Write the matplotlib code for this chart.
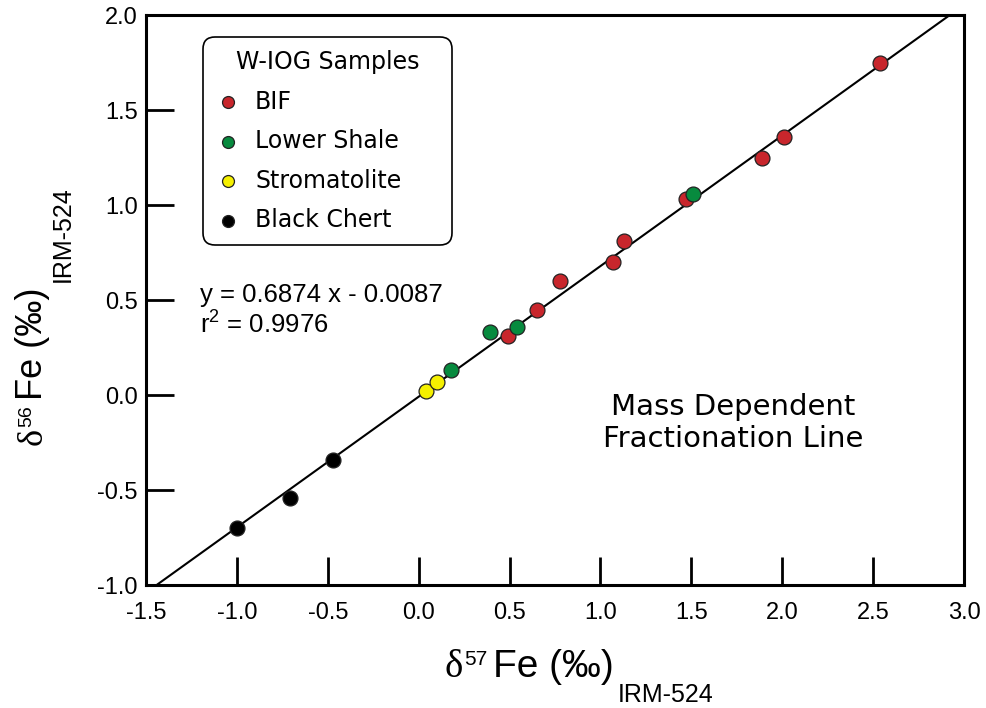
#!/usr/bin/env python

# import libraries
import numpy as np
import matplotlib
matplotlib.use("Agg")
import matplotlib.pyplot as plt
from matplotlib.transforms import IdentityTransform

# data (delta57Fe, delta56Fe)
bif_x = [0.49, 0.65, 0.78, 1.07, 1.13, 1.47, 1.89, 2.01, 2.54]
bif_y = [0.31, 0.45, 0.60, 0.70, 0.81, 1.03, 1.25, 1.36, 1.75]
shale_x = [0.18, 0.39, 0.54, 1.51]
shale_y = [0.13, 0.33, 0.36, 1.06]
strom_x = [0.04, 0.10]
strom_y = [0.02, 0.07]
chert_x = [-1.00, -0.71, -0.47]
chert_y = [-0.70, -0.54, -0.34]

# regression line
slope = 0.6874
intercept = -0.0087
r2 = 0.9976

x_ticks = [-1.5, -1.0, -0.5, 0.0, 0.5, 1.0, 1.5, 2.0, 2.5, 3.0]
y_ticks = [-1.0, -0.5, 0.0, 0.5, 1.0, 1.5, 2.0]

plt.rcParams['font.family'] = ['Liberation Sans', 'DejaVu Sans']
plt.rcParams['mathtext.fontset'] = 'custom'
plt.rcParams['mathtext.rm'] = 'Liberation Sans'
plt.rcParams['mathtext.it'] = 'Liberation Sans'

fig = plt.figure(figsize=(9.87, 7.08), dpi=100)
ax = fig.add_axes([0.148, 0.1737, 0.8287, 0.8051])

# fit line across the whole frame
xl = np.array([-1.5, 3.0])
ax.plot(xl, slope * xl + intercept, color='black', lw=1.5, zorder=2)

kw = dict(s=115, edgecolors='#222222', linewidths=0.9, zorder=3)
ax.scatter(bif_x, bif_y, c='#c8262c', label='BIF', **kw)
ax.scatter(shale_x, shale_y, c='#078a3e', label='Lower Shale', **kw)
ax.scatter(strom_x, strom_y, c='#f5f000', label='Stromatolite', **kw)
ax.scatter(chert_x, chert_y, c='black', label='Black Chert', **kw)

ax.set_xlim(-1.5, 3.0)
ax.set_ylim(-1.0, 2.0)
ax.set_xticks(x_ticks)
ax.set_yticks(y_ticks)
ax.set_xticklabels([f"{v:.1f}" for v in x_ticks], fontsize=17)
ax.set_yticklabels([f"{v:.1f}" for v in y_ticks], fontsize=17)
ax.tick_params(direction='in', length=20, width=2)
ax.tick_params(axis='y', pad=6)
ax.tick_params(axis='x', pad=12)
for s in ax.spines.values():
    s.set_linewidth(2.2)

# legend, stretched to the width of the original box
leg = ax.legend(title='W-IOG Samples', loc='upper left',
                bbox_to_anchor=(0.0697, 0.6035, 0.3044, 0.358),
                mode='expand', borderaxespad=0,
                prop={'family': 'DejaVu Sans', 'size': 17},
                title_fontproperties={'family': 'DejaVu Sans', 'size': 17},
                frameon=True, fancybox=True, edgecolor='black', framealpha=1,
                handletextpad=0.65, handlelength=1.0, labelspacing=0.66,
                borderpad=0.55, markerscale=0.8)
leg.get_frame().set_linewidth(1.2)
leg.get_frame().set_boxstyle('round', pad=0, rounding_size=0.5)

# equation and annotation
ax.text(0.066, 0.4965, f'y = {slope} x - {abs(intercept)}', transform=ax.transAxes,
        fontsize=18.5, va='baseline')
ax.text(0.066, 0.4404, f'r$^2$ = {r2}', transform=ax.transAxes,
        fontsize=18.5, va='baseline')
ax.text(0.7176, 0.298, 'Mass Dependent', transform=ax.transAxes,
        fontsize=21, ha='center', va='baseline', family='DejaVu Sans')
ax.text(0.7176, 0.242, 'Fractionation Line', transform=ax.transAxes,
        fontsize=21, ha='center', va='baseline', family='DejaVu Sans')


# axis labels with super- and subscripts, built piece by piece
def chain_text(pieces, x0, y0, rotation):
    renderer = fig.canvas.get_renderer()
    pos = 0.0
    for s, size, fam, shift, gap in pieces:
        pos += gap
        if rotation == 0:
            x, y = x0 + pos, y0 + shift
        else:
            x, y = x0 - shift, y0 + pos
        t = fig.text(x, y, s, transform=IdentityTransform(), fontsize=size,
                     family=fam, ha='left', va='baseline', rotation=rotation,
                     rotation_mode='anchor')
        bb = t.get_window_extent(renderer)
        pos += bb.width if rotation == 0 else bb.height


H = 708
chain_text([('δ', 28, 'Liberation Serif', 0, 0),
            ('57', 15, 'Liberation Sans', 12, 1),
            ('Fe (‰)', 28, 'Liberation Sans', 0, 5),
            ('IRM-524', 18, 'Liberation Sans', -25, 4)],
           445, H - 677, 0)
chain_text([('δ', 26, 'Liberation Serif', 0, 0),
            ('56', 14, 'Liberation Sans', 11, 1),
            ('Fe (‰)', 26, 'Liberation Sans', 0, 5),
            ('IRM-524', 18, 'Liberation Sans', -28, 6)],
           42, H - 445, 90)

fig.savefig('out.png', dpi=100)
